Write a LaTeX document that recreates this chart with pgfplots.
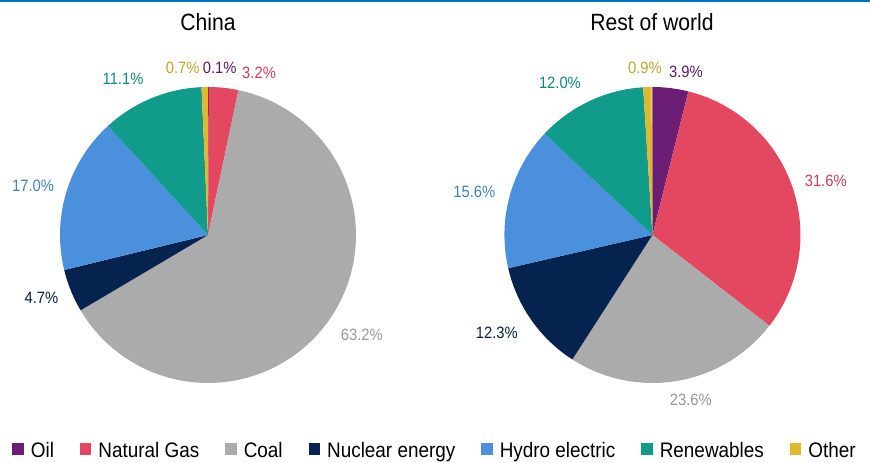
\documentclass[border=0pt]{standalone}
\usepackage{pgfplots}
\usepackage{pgfplotstable}
\pgfplotsset{compat=1.18}
\usepackage{fontspec}
\setmainfont{Liberation Sans}[FakeStretch=0.9]

\definecolor{oil}{RGB}{107,29,115}
\definecolor{gas}{RGB}{228,72,96}
\definecolor{coal}{RGB}{171,171,171}
\definecolor{nuclear}{RGB}{6,34,78}
\definecolor{hydro}{RGB}{74,144,220}
\definecolor{renew}{RGB}{17,155,138}
\definecolor{other}{RGB}{222,185,48}
\definecolor{topline}{RGB}{0,112,192}

\newcommand\lbl{\fontsize{16.4bp}{19bp}\selectfont}
\newcommand\ttl{\fontsize{23.5bp}{28bp}\selectfont}
\newcommand\leg{\fontsize{21bp}{25bp}\selectfont}

% share in percent, slice colour, label position relative to the pie centre
\pgfplotstableread{
share colour  lx     ly
0.1   oil     0.079  1.126
3.2   gas     0.345  1.097
63.2  coal    1.039 -0.674
4.7   nuclear -1.125 -0.426
17.0  hydro  -1.182  0.331
11.1  renew  -0.574  1.055
0.7   other  -0.171  1.126
}\china

\pgfplotstableread{
share colour  lx     ly
3.9   oil     0.226  1.103
31.6  gas     1.171  0.366
23.6  coal    0.259 -1.115
12.3  nuclear -1.051 -0.662
15.6  hydro  -1.203  0.293
12.0  renew  -0.625  1.027
0.9   other  -0.051  1.130
}\world

% slices run clockwise from twelve o'clock; #1 = table, #2 = x of the centre
\newcommand\drawpie[2]{%
  \pgfplotstablegetrowsof{#1}%
  \pgfmathtruncatemacro\lastrow{\pgfplotsretval-1}%
  \def\cum{0}%
  \pgfplotsforeachungrouped \i in {0,...,\lastrow}{%
    \pgfplotstablegetelem{\i}{share}\of{#1}\let\v\pgfplotsretval
    \pgfplotstablegetelem{\i}{colour}\of{#1}\let\c\pgfplotsretval
    \pgfplotstablegetelem{\i}{lx}\of{#1}\let\lx\pgfplotsretval
    \pgfplotstablegetelem{\i}{ly}\of{#1}\let\ly\pgfplotsretval
    \pgfmathsetmacro\a{90-3.6*\cum}%
    \pgfmathsetmacro\cum{\cum+\v}%
    \pgfmathsetmacro\b{90-3.6*\cum}%
    \pgfmathsetmacro\lxx{#2+\lx}%
    \edef\doslice{\noexpand\addplot[draw=none, fill=\c, forget plot,
        domain=\b:\a, samples=120]
        ({#2+cos(x)},{sin(x)}) -- (axis cs:#2,0) -- cycle;}%
    \doslice
    \edef\dolabel{\noexpand\node[text=\c!88!black, font=\noexpand\lbl]
        at (axis cs:\lxx,\ly)
        {\noexpand\pgfmathprintnumber[fixed,fixed zerofill,precision=1,
          assume math mode=true]{\v}\noexpand\%};}%
    \dolabel
  }%
}

\begin{document}
\begin{tikzpicture}
\begin{axis}[
  scale only axis, width=870bp, height=461bp,
  xmin=-1.4054, xmax=4.4730, ymin=-1.5270, ymax=1.5878,
  hide axis, clip=false,
  legend columns=-1,
  legend image code/.code={\fill[#1, draw=none] (0bp,-4.5bp) rectangle (11.5bp,7bp);},
  legend style={draw=none, fill=none, font=\leg,
    at={(rel axis cs:0.5,0)}, anchor=south, yshift=-2bp,
    /tikz/every odd column/.append style={column sep=5bp},
    /tikz/every even column/.append style={column sep=24bp}},
]
\fill[topline] (rel axis cs:0,1) rectangle ([yshift=-2bp]rel axis cs:1,1);

\drawpie{\china}{0}
\drawpie{\world}{3.003}

\node[font=\ttl] at (axis cs:0,1.439) {China};
\node[font=\ttl] at (axis cs:3.0,1.439) {Rest of world};

\addlegendimage{fill=oil}\addlegendentry{Oil}
\addlegendimage{fill=gas}\addlegendentry{Natural Gas}
\addlegendimage{fill=coal}\addlegendentry{Coal}
\addlegendimage{fill=nuclear}\addlegendentry{Nuclear energy}
\addlegendimage{fill=hydro}\addlegendentry{Hydro electric}
\addlegendimage{fill=renew}\addlegendentry{Renewables}
\addlegendimage{fill=other}\addlegendentry{Other}
\end{axis}
\end{tikzpicture}
\end{document}
